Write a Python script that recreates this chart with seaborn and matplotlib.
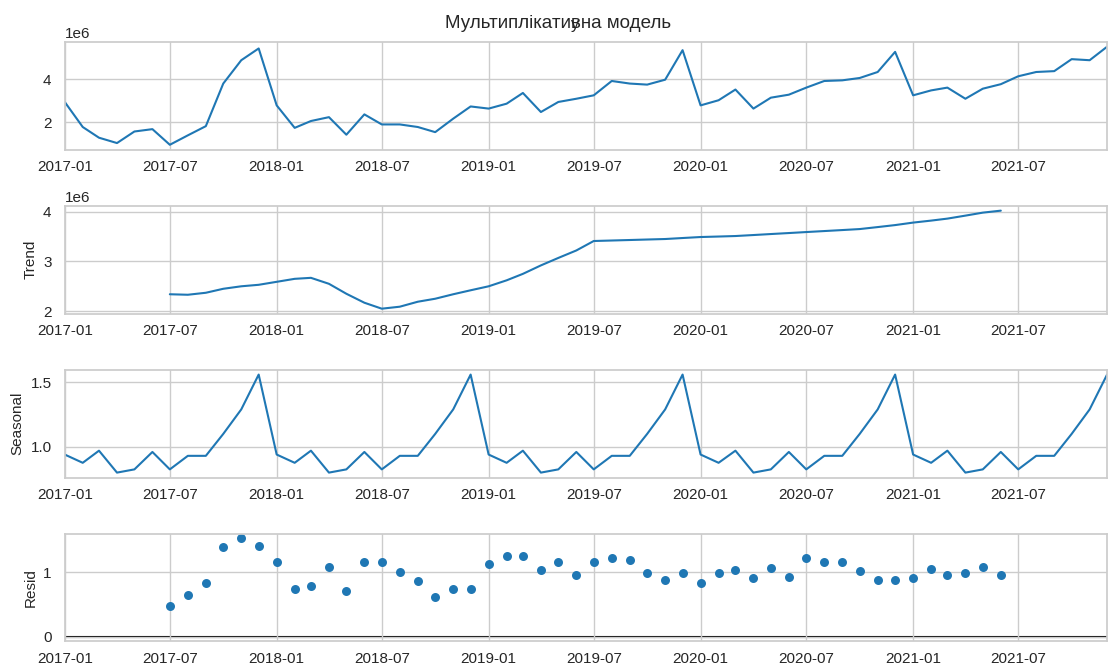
import numpy as np
import pandas as pd
import matplotlib
matplotlib.use("Agg")
import matplotlib.pyplot as plt
import matplotlib.dates as mdates
import seaborn as sns

# Monthly sales (millions), Jan 2017 - Dec 2021
observed_mln = [
    2.94, 1.77, 1.27, 1.02, 1.56, 1.67, 0.94, 1.38, 1.81, 3.80, 4.89, 5.44,
    2.78, 1.73, 2.05, 2.23, 1.41, 2.36, 1.89, 1.89, 1.77, 1.53, 2.16, 2.73,
    2.63, 2.86, 3.36, 2.47, 2.94, 3.09, 3.25, 3.92, 3.80, 3.75, 3.98, 5.36,
    2.78, 3.02, 3.52, 2.63, 3.14, 3.28, 3.61, 3.92, 3.95, 4.06, 4.34, 5.28,
    3.25, 3.48, 3.61, 3.09, 3.56, 3.77, 4.14, 4.34, 4.38, 4.94, 4.89, 5.52,
]

# Centred 12-month moving average (millions), Jul 2017 - Jun 2021
trend_mln = [
    2.34, 2.33, 2.37, 2.45, 2.50, 2.53,
    2.59, 2.65, 2.67, 2.55, 2.35, 2.17, 2.05, 2.09, 2.19, 2.25, 2.34, 2.42,
    2.50, 2.62, 2.75, 2.92, 3.07, 3.22, 3.41, 3.42, 3.43, 3.44, 3.45, 3.47,
    3.49, 3.50, 3.51, 3.53, 3.55, 3.57, 3.59, 3.61, 3.63, 3.65, 3.69, 3.73,
    3.78, 3.82, 3.86, 3.92, 3.98, 4.02,
]

# Multiplicative seasonal factors, Jan 2017 - Dec 2021
seasonal = [
    0.94, 0.876, 0.97, 0.80, 0.825, 0.96, 0.825, 0.93, 0.93, 1.10, 1.29, 1.56,
    0.94, 0.876, 0.97, 0.80, 0.825, 0.96, 0.825, 0.93, 0.93, 1.10, 1.29, 1.56,
    0.94, 0.876, 0.97, 0.80, 0.825, 0.96, 0.825, 0.93, 0.93, 1.10, 1.29, 1.56,
    0.94, 0.876, 0.97, 0.80, 0.825, 0.96, 0.825, 0.93, 0.93, 1.10, 1.29, 1.56,
    0.94, 0.876, 0.97, 0.80, 0.825, 0.96, 0.825, 0.93, 0.93, 1.10, 1.29, 1.56,
]

# Residual factors, Jul 2017 - Jun 2021
resid = [
    0.47, 0.64, 0.83, 1.39, 1.52, 1.40,
    1.15, 0.73, 0.78, 1.08, 0.70, 1.15, 1.15, 1.00, 0.86, 0.61, 0.74, 0.74,
    1.13, 1.25, 1.25, 1.03, 1.15, 0.96, 1.16, 1.22, 1.18, 0.99, 0.88, 0.98,
    0.83, 0.98, 1.03, 0.91, 1.06, 0.92, 1.22, 1.16, 1.16, 1.01, 0.88, 0.88,
    0.91, 1.04, 0.95, 0.99, 1.08, 0.96,
]

title_text = "Мультиплікативна модель"
series_name = "y"

dates = pd.date_range("2017-01-01", periods=len(observed_mln), freq="MS")
inner = dates[6:6 + len(trend_mln)]

sns.set_theme(style="whitegrid", context="notebook")
plt.rcParams["font.family"] = ["Liberation Sans", "DejaVu Sans"]

color = "#1f77b4"
fig, axes = plt.subplots(4, 1, figsize=(11.16, 6.64), dpi=100)
fig.subplots_adjust(left=0.058, right=0.992, top=0.937, bottom=0.034, hspace=0.52)

xlim = (dates[0], dates[-1])

sns.lineplot(x=dates, y=np.array(observed_mln) * 1e6, ax=axes[0], color=color, linewidth=1.5)
axes[0].set_title(series_name, fontsize=12, pad=9, x=0.49)

sns.lineplot(x=inner, y=np.array(trend_mln) * 1e6, ax=axes[1], color=color, linewidth=1.5)
axes[1].set_ylabel("Trend", fontsize=11)

sns.lineplot(x=dates, y=seasonal, ax=axes[2], color=color, linewidth=1.5)
axes[2].set_ylabel("Seasonal", fontsize=11)

sns.scatterplot(x=inner, y=resid, ax=axes[3], color=color, s=42, linewidth=0)
axes[3].plot(xlim, (0, 0), color="#000000", zorder=-3, linewidth=1.5)
axes[3].set_ylabel("Resid", fontsize=11)

axes[0].set_yticks([2e6, 4e6])
axes[1].set_yticks([2e6, 3e6, 4e6])
axes[2].set_yticks([1.0, 1.5])
axes[3].set_yticks([0, 1])

for ax in axes:
    ax.set_xlim(xlim)
    ax.set_xlabel("")
    ax.xaxis.set_major_locator(mdates.MonthLocator(bymonth=[1, 7]))
    ax.xaxis.set_major_formatter(mdates.DateFormatter("%Y-%m"))
    ax.tick_params(labelsize=11)
    ax.tick_params(axis="x", pad=1.5)
    ax.yaxis.get_offset_text().set_fontsize(11)
axes[0].set_ylabel("")

fig.suptitle(title_text, fontsize=13.5, y=0.965, va="center")
fig.savefig("out.png", dpi=100)
